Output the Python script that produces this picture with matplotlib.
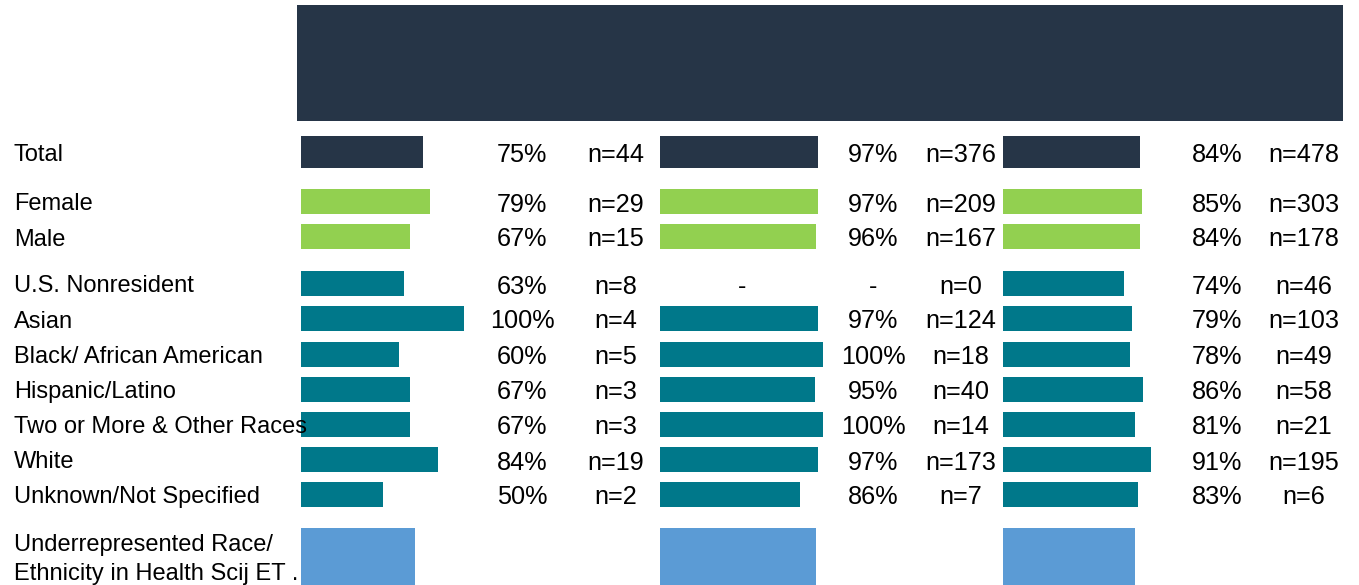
import matplotlib.pyplot as plt
from matplotlib.patches import Rectangle

plt.rcParams['font.family'] = ['Liberation Sans', 'DejaVu Sans']

# rows
labels = ["Total", "Female", "Male", "U.S. Nonresident", "Asian",
          "Black/ African American", "Hispanic/Latino",
          "Two or More & Other Races", "White", "Unknown/Not Specified",
          "Underrepresented Race/\nEthnicity in Health Scij ET ."]
groups = ["total", "gender", "gender", "race", "race", "race", "race",
          "race", "race", "race", "urm"]

# percentages per panel (None = no data)
pct1 = [75, 79, 67, 63, 100, 60, 67, 67, 84, 50, 70]
pct2 = [97, 97, 96, None, 97, 100, 95, 100, 97, 86, 96]
pct3 = [84, 85, 84, 74, 79, 78, 86, 81, 91, 83, 81]
n1 = [44, 29, 15, 8, 4, 5, 3, 3, 19, 2, None]
n2 = [376, 209, 167, 0, 124, 18, 40, 14, 173, 7, None]
n3 = [478, 303, 178, 46, 103, 49, 58, 21, 195, 6, None]

colors = {"total": "#263547", "gender": "#92d050", "race": "#00788a", "urm": "#5b9bd5"}

# layout (pixels)
row_y = [152, 201.5, 236.5, 283.5, 318.5, 354, 389, 424, 459.5, 494.5, 558]
bar_h = {"total": 32, "gender": 25, "race": 25, "urm": 60}
panel_x0 = [301, 660, 1003]
pct_x = [522, 873, 1217]
n_x = [616, 961, 1304]
scale = 163 / 100.0

fig = plt.figure(figsize=(13.59, 5.85), dpi=100)
ax = fig.add_axes([0, 0, 1, 1])
ax.set_xlim(0, 1359)
ax.set_ylim(585, 0)
ax.axis('off')

# header band
ax.add_patch(Rectangle((297, 5), 1046, 116, color="#263547", lw=0))

fs = 17
fs_num = 18.2
for i, lab in enumerate(labels):
    y = row_y[i] + 3
    if groups[i] == "urm":
        ax.text(14, 545, lab.split("\n")[0], fontsize=fs, va='center', ha='left')
        ax.text(14, 574, lab.split("\n")[1], fontsize=fs, va='center', ha='left')
    else:
        ax.text(14, y, lab, fontsize=fs, va='center', ha='left')

for p, (pcts, ns) in enumerate([(pct1, n1), (pct2, n2), (pct3, n3)]):
    x0 = panel_x0[p]
    for i in range(len(labels)):
        y = row_y[i]
        g = groups[i]
        v = pcts[i]
        if v is None:
            ax.text(742, y + 3, "-", fontsize=fs_num, ha='center', va='center')
            ax.text(pct_x[p], y + 3, "-", fontsize=fs_num, ha='center', va='center')
        else:
            ax.barh(y, v * scale, left=x0, height=bar_h[g], color=colors[g], lw=0)
            if g != "urm":
                ax.text(pct_x[p], y + 3, f"{v}%", fontsize=fs_num, ha='center', va='center')
        if ns[i] is not None:
            ax.text(n_x[p], y + 3, f"n={ns[i]}", fontsize=fs_num, ha='center', va='center')

fig.savefig("out.png", dpi=100)
